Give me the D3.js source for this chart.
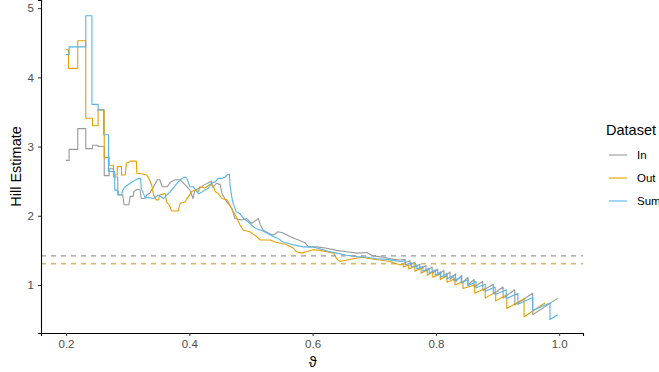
<!DOCTYPE html>
<html>
<head>
<meta charset="utf-8">
<script src="https://cdn.jsdelivr.net/npm/d3@7"></script>
<style>
  body { margin: 0; background: #fff; }
  svg { display: block; font-family: "Liberation Sans", Arial, "DejaVu Sans", sans-serif; }
</style>
</head>
<body>
<div id="chart"></div>
<script>
// series, colours and reference levels
const seriesNames = ["In", "Out", "Sum"];
const seriesColors = ["#999999", "#E69F00", "#56B4E9"];
const refLevels = [1.42, 1.305, 1.315];
const xTicks = [0.2, 0.4, 0.6, 0.8, 1.0];
const yTicks = [1, 2, 3, 4, 5];

// [theta, hill estimate]
const hillIn = [
  [0.200,2.80],[0.205,2.80],[0.205,2.96],[0.219,2.96],[0.219,3.26],[0.232,3.26],[0.232,2.97],[0.243,2.97],
  [0.243,3.02],[0.252,3.02],[0.252,3.00],[0.262,3.00],[0.262,2.58],[0.270,2.58],[0.270,2.68],[0.277,2.68],
  [0.277,2.56],[0.284,2.56],[0.284,2.30],[0.292,2.30],[0.294,2.16],[0.302,2.16],[0.304,2.28],[0.309,2.28],
  [0.310,2.35],[0.315,2.38],[0.320,2.38],[0.322,2.25],[0.328,2.25],[0.331,2.30],[0.336,2.33],[0.341,2.40],
  [0.348,2.52],[0.352,2.52],[0.356,2.42],[0.364,2.42],[0.369,2.48],[0.377,2.52],[0.385,2.52],[0.393,2.45],
  [0.401,2.37],[0.406,2.25],[0.409,2.37],[0.417,2.40],[0.425,2.45],[0.436,2.50],[0.438,2.41],[0.444,2.47],
  [0.450,2.45],[0.453,2.32],[0.461,2.20],[0.469,2.11],[0.474,1.96],[0.485,1.94],[0.493,1.96],[0.501,1.89],
  [0.512,1.96],[0.515,1.87],[0.520,1.79],[0.528,1.75],[0.536,1.72],[0.544,1.77],[0.552,1.75],[0.563,1.70],
  [0.574,1.66],[0.588,1.61],[0.593,1.55],[0.607,1.55],[0.623,1.53],[0.639,1.50],[0.655,1.48],[0.672,1.46],
  [0.688,1.47],[0.698,1.42],[0.715,1.40],[0.731,1.37],[0.742,1.36],
  [0.750,1.37],[0.750,1.32],[0.758,1.35],[0.758,1.29],[0.766,1.33],[0.766,1.26],[0.774,1.30],[0.774,1.23],
  [0.784,1.28],[0.784,1.20],[0.794,1.26],[0.794,1.17],[0.803,1.23],[0.803,1.14],[0.813,1.21],[0.813,1.11],
  [0.823,1.19],[0.823,1.08],[0.832,1.16],[0.832,1.05],[0.842,1.14],[0.842,1.03],[0.852,1.11],[0.852,1.00],
  [0.862,1.08],[0.862,0.97],[0.876,1.05],[0.876,0.92],[0.893,1.01],[0.893,0.87],[0.909,0.97],[0.909,0.81],
  [0.928,0.93],[0.928,0.71],[0.957,0.88],[0.957,0.57],[0.998,0.81]
];

const hillOut = [
  [0.200,4.40],[0.204,4.40],[0.204,4.13],[0.219,4.13],[0.219,4.53],[0.232,4.53],[0.232,3.41],[0.243,3.41],
  [0.243,3.30],[0.252,3.30],[0.252,3.53],[0.262,3.53],[0.262,2.84],[0.270,2.84],[0.270,2.73],[0.277,2.73],
  [0.277,2.59],[0.283,2.59],[0.283,2.71],[0.290,2.71],[0.290,2.59],[0.296,2.59],[0.298,2.76],[0.305,2.79],
  [0.314,2.79],[0.315,2.61],[0.321,2.61],[0.331,2.59],[0.335,2.53],[0.339,2.44],[0.342,2.30],[0.346,2.23],
  [0.350,2.23],[0.352,2.30],[0.361,2.32],[0.363,2.20],[0.369,2.13],[0.371,2.07],[0.382,2.07],[0.385,2.18],
  [0.393,2.20],[0.398,2.27],[0.404,2.35],[0.409,2.37],[0.415,2.35],[0.417,2.42],[0.425,2.40],[0.434,2.46],
  [0.439,2.43],[0.442,2.35],[0.447,2.32],[0.453,2.25],[0.461,2.23],[0.466,2.15],[0.471,2.06],[0.476,1.99],
  [0.482,1.87],[0.488,1.79],[0.498,1.77],[0.509,1.70],[0.515,1.65],[0.531,1.65],[0.539,1.62],[0.550,1.60],
  [0.558,1.58],[0.569,1.53],[0.574,1.48],[0.582,1.46],[0.590,1.48],[0.601,1.51],[0.612,1.50],[0.623,1.48],
  [0.634,1.46],[0.639,1.38],[0.644,1.34],[0.666,1.38],[0.682,1.40],[0.693,1.38],[0.709,1.36],[0.726,1.34],
  [0.742,1.29],
  [0.747,1.31],[0.747,1.26],[0.756,1.29],[0.756,1.23],[0.766,1.27],[0.766,1.20],[0.776,1.24],[0.776,1.17],
  [0.786,1.22],[0.786,1.14],[0.795,1.19],[0.795,1.11],[0.807,1.16],[0.807,1.08],[0.818,1.13],[0.818,1.04],
  [0.831,1.09],[0.831,1.00],[0.844,1.05],[0.844,0.95],[0.863,1.00],[0.863,0.88],[0.880,0.95],[0.880,0.81],
  [0.897,0.90],[0.897,0.77],[0.915,0.86],[0.915,0.66],[0.943,0.80],[0.943,0.54],[0.977,0.74]
];

const hillSum = [
  [0.200,4.33],[0.205,4.33],[0.205,4.44],[0.232,4.44],[0.232,4.89],[0.242,4.89],[0.242,3.61],[0.252,3.61],
  [0.252,3.53],[0.261,3.53],[0.261,3.17],[0.269,3.17],[0.269,2.64],[0.279,2.64],[0.279,2.37],[0.284,2.37],
  [0.286,2.30],[0.290,2.30],[0.292,2.37],[0.296,2.42],[0.304,2.47],[0.315,2.53],[0.321,2.54],[0.322,2.40],
  [0.328,2.27],[0.342,2.25],[0.350,2.30],[0.358,2.25],[0.369,2.35],[0.382,2.49],[0.388,2.54],[0.393,2.56],
  [0.396,2.54],[0.401,2.42],[0.406,2.42],[0.415,2.32],[0.420,2.34],[0.425,2.37],[0.431,2.40],[0.436,2.47],
  [0.442,2.49],[0.447,2.54],[0.453,2.54],[0.458,2.56],[0.461,2.59],[0.465,2.60],[0.466,2.44],[0.469,2.27],
  [0.471,2.18],[0.474,2.11],[0.476,2.06],[0.482,2.03],[0.488,1.96],[0.496,1.91],[0.504,1.84],[0.512,1.80],
  [0.517,1.79],[0.526,1.75],[0.536,1.70],[0.544,1.67],[0.552,1.62],[0.569,1.58],[0.585,1.55],[0.601,1.55],
  [0.617,1.51],[0.628,1.48],[0.639,1.46],[0.655,1.43],[0.672,1.41],[0.688,1.40],[0.704,1.38],[0.720,1.37],
  [0.742,1.34],
  [0.750,1.35],[0.750,1.29],[0.760,1.32],[0.760,1.26],[0.769,1.29],[0.769,1.23],[0.779,1.27],[0.779,1.20],
  [0.789,1.24],[0.789,1.17],[0.799,1.22],[0.799,1.14],[0.808,1.19],[0.808,1.11],[0.818,1.17],[0.818,1.09],
  [0.829,1.14],[0.829,1.06],[0.841,1.11],[0.841,1.03],[0.852,1.08],[0.852,0.99],[0.865,1.05],[0.865,0.96],
  [0.880,1.01],[0.880,0.91],[0.896,0.97],[0.896,0.86],[0.914,0.93],[0.914,0.80],[0.933,0.88],[0.933,0.72],
  [0.957,0.82],[0.957,0.63],[0.985,0.74],[0.985,0.50],[0.998,0.57]
];

const allSeries = [hillIn, hillOut, hillSum];

const width = 659, height = 372;
const margin = { top: 0, right: 76, bottom: 39, left: 41 };
const plotW = width - margin.left - margin.right;
const plotH = height - margin.top - margin.bottom;

const svg = d3.select("#chart").append("svg")
  .attr("width", width)
  .attr("height", height);

const x = d3.scaleLinear().domain([0.1594, 1.0386]).range([0, plotW]);
const y = d3.scaleLinear().domain([0.306, 5.118]).range([plotH, 0]);

const g = svg.append("g")
  .attr("transform", `translate(${margin.left},${margin.top})`);

g.append("clipPath").attr("id", "clip")
  .append("rect").attr("width", plotW).attr("height", plotH);

const line = d3.line()
  .x(d => x(d[0]))
  .y(d => y(d[1]));

const lines = g.append("g").attr("clip-path", "url(#clip)");

allSeries.forEach((data, i) => {
  lines.append("path")
    .datum(data)
    .attr("fill", "none")
    .attr("stroke", seriesColors[i])
    .attr("stroke-width", 1.1)
    .attr("stroke-linejoin", "round")
    .attr("d", line);
});

// dashed reference levels: Sum under Out so the lower one reads olive/orange
[0, 2, 1].forEach(i => {
  lines.append("line")
    .attr("x1", 0).attr("x2", plotW)
    .attr("y1", y(refLevels[i])).attr("y2", y(refLevels[i]))
    .attr("stroke", seriesColors[i])
    .attr("stroke-width", 1.1)
    .attr("stroke-opacity", i === 0 ? 1 : (i === 1 ? 0.75 : 0.6))
    .attr("stroke-dasharray", "5,5");
});

// axes
const xAxis = g.append("g")
  .attr("transform", `translate(0,${plotH})`)
  .call(d3.axisBottom(x).tickValues(xTicks).tickFormat(d3.format(".1f")).tickSize(3).tickPadding(4));
const yAxis = g.append("g")
  .call(d3.axisLeft(y).tickValues(yTicks).tickFormat(d3.format("d")).tickSize(3).tickPadding(4));

[xAxis, yAxis].forEach(ax => {
  ax.select(".domain").attr("stroke", "#000").attr("stroke-width", 1.1);
  ax.selectAll(".tick line").attr("stroke", "#333").attr("stroke-width", 1);
  ax.selectAll(".tick text").attr("fill", "#4D4D4D").style("font-size", "11.5px")
    .style("font-family", "'Liberation Sans', Arial, sans-serif");
});

svg.append("text")
  .attr("x", margin.left + x(0.6))
  .attr("y", 367)
  .attr("text-anchor", "middle")
  .style("font-size", "14.5px")
  .text("ϑ");

svg.append("text")
  .attr("transform", `translate(21,${margin.top + plotH / 2}) rotate(-90)`)
  .attr("text-anchor", "middle")
  .style("font-size", "14.5px")
  .text("Hill Estimate");

// legend
const legend = svg.append("g").attr("transform", "translate(606,0)");
legend.append("text")
  .attr("x", 0).attr("y", 135)
  .style("font-size", "14.5px")
  .text("Dataset");

seriesNames.forEach((name, i) => {
  const ly = 155 + i * 23;
  legend.append("line")
    .attr("x1", 3).attr("x2", 21)
    .attr("y1", ly).attr("y2", ly)
    .attr("stroke", seriesColors[i])
    .attr("stroke-width", 1.1);
  legend.append("text")
    .attr("x", 31).attr("y", ly + 4)
    .style("font-size", "11.5px")
    .text(name);
});
</script>
</body>
</html>
